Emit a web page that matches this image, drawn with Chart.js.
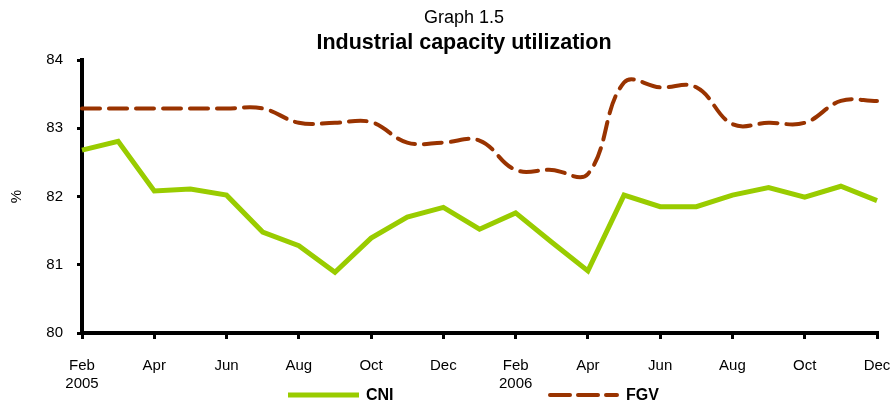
<!DOCTYPE html>
<html>
<head>
<meta charset="utf-8">
<script src="https://cdn.jsdelivr.net/npm/chart.js@4/dist/chart.umd.min.js"></script>
<style>
  html, body { margin: 0; padding: 0; background: #fff; }
  #wrap { width: 894px; height: 402px; position: relative; }
</style>
</head>
<body>
<div id="wrap"><canvas id="chart"></canvas></div>
<script>
const months = ['Feb', 'Mar', 'Apr', 'May', 'Jun', 'Jul', 'Aug', 'Sep', 'Oct', 'Nov', 'Dec', 'Jan',
                'Feb', 'Mar', 'Apr', 'May', 'Jun', 'Jul', 'Aug', 'Sep', 'Oct', 'Nov', 'Dec'];
const years = { 0: '2005', 12: '2006' };
const cni = [82.68, 82.81, 82.08, 82.11, 82.02, 81.48, 81.28, 80.89, 81.39, 81.70, 81.84, 81.52,
             81.76, 81.33, 80.91, 82.02, 81.85, 81.85, 82.02, 82.13, 81.99, 82.15, 81.94];
const fgv = [83.29, 83.29, 83.29, 83.29, 83.29, 83.29, 83.08, 83.08, 83.09, 82.79, 82.79, 82.82,
             82.39, 82.39, 82.33, 83.67, 83.60, 83.60, 83.06, 83.08, 83.08, 83.40, 83.40];

const green = '#99CC00';
const brown = '#993300';
const font = '"Liberation Sans", Arial, sans-serif';

// titles and legend drawn by hand so they sit like the original
const decorations = {
  id: 'decorations',
  afterDraw(chart) {
    const ctx = chart.ctx;
    ctx.save();
    ctx.fillStyle = '#000';
    ctx.textAlign = 'center';
    ctx.textBaseline = 'middle';
    ctx.font = '18px ' + font;
    ctx.fillText('Graph 1.5', 464, 18);
    ctx.font = 'bold 21.5px ' + font;
    ctx.fillText('Industrial capacity utilization', 464, 43);

    ctx.lineWidth = 5;
    ctx.strokeStyle = green;
    ctx.beginPath();
    ctx.moveTo(288, 395);
    ctx.lineTo(359, 395);
    ctx.stroke();

    ctx.lineWidth = 4;
    ctx.strokeStyle = brown;
    ctx.setLineDash([20, 8]);
    ctx.lineCap = 'round';
    ctx.beginPath();
    ctx.moveTo(550, 395);
    ctx.lineTo(617, 395);
    ctx.stroke();
    ctx.setLineDash([]);

    ctx.textAlign = 'left';
    ctx.font = 'bold 16px ' + font;
    ctx.fillText('CNI', 366, 396);
    ctx.fillText('FGV', 626, 396);
    ctx.restore();
  }
};

new Chart(document.getElementById('chart'), {
  type: 'line',
  data: {
    labels: months,
    datasets: [
      {
        label: 'CNI',
        data: cni,
        borderColor: green,
        borderWidth: 5,
        pointRadius: 0,
        tension: 0,
        fill: false
      },
      {
        label: 'FGV',
        data: fgv,
        borderColor: brown,
        borderWidth: 4,
        borderDash: [18, 9],
        borderCapStyle: 'round',
        pointRadius: 0,
        tension: 0.4,
        fill: false
      }
    ]
  },
  options: {
    responsive: true,
    maintainAspectRatio: false,
    animation: false,
    layout: { padding: { left: 0, right: 17, top: 60, bottom: 0 } },
    plugins: {
      legend: { display: false },
      tooltip: { enabled: false }
    },
    scales: {
      x: {
        offset: false,
        border: { display: true, color: '#000', width: 4 },
        grid: { display: true, drawOnChartArea: false, drawTicks: true, tickLength: 6, color: '#000', lineWidth: 3 },
        ticks: {
          autoSkip: false,
          maxRotation: 0,
          padding: 18,
          color: '#000',
          font: { family: font, size: 15 },
          callback: function (val, i) {
            if (i % 2 !== 0) return null;
            return years[i] ? [months[i], years[i]] : months[i];
          }
        },
        afterFit: function (scale) {
          scale.height = 69;
          scale.paddingLeft = 0;
          scale.paddingRight = 0;
        }
      },
      y: {
        min: 80,
        max: 84,
        border: { display: true, color: '#000', width: 4 },
        grid: { display: true, drawOnChartArea: false, drawTicks: true, tickLength: 5, color: '#000', lineWidth: 3 },
        ticks: {
          stepSize: 1,
          padding: 14,
          color: '#000',
          font: { family: font, size: 15 }
        },
        title: {
          display: true,
          text: '%',
          color: '#000',
          font: { family: font, size: 15 },
          padding: { top: 8, bottom: 6 }
        },
        afterFit: function (scale) {
          scale.width = 82;
          scale.paddingTop = 0;
          scale.paddingBottom = 0;
        }
      }
    }
  },
  plugins: [decorations]
});
</script>
</body>
</html>
